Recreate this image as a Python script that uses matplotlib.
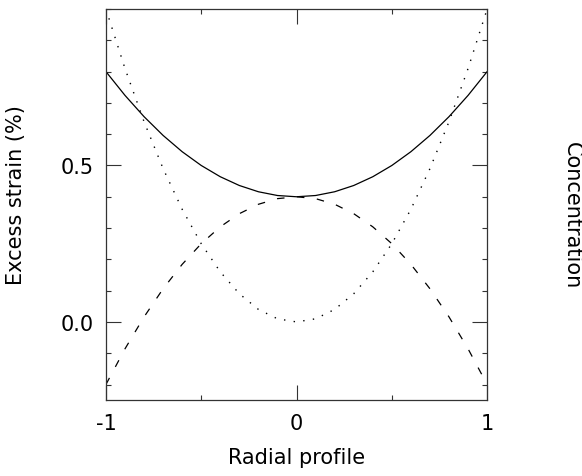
import matplotlib
matplotlib.use("Agg")
import matplotlib.pyplot as plt
from matplotlib.ticker import MultipleLocator, FixedLocator

plt.rcParams['font.family'] = ['DejaVu Sans']

# Radial positions and values
radial = [-1.0, -0.9, -0.8, -0.7, -0.6, -0.5, -0.4, -0.3, -0.2, -0.1, 0.0,
          0.1, 0.2, 0.3, 0.4, 0.5, 0.6, 0.7, 0.8, 0.9, 1.0]
total_strain = [0.800, 0.724, 0.656, 0.596, 0.544, 0.500, 0.464, 0.436, 0.416, 0.404, 0.400,
                0.404, 0.416, 0.436, 0.464, 0.500, 0.544, 0.596, 0.656, 0.724, 0.800]
dashed_strain = [-0.200, -0.086, 0.016, 0.106, 0.184, 0.250, 0.304, 0.346, 0.376, 0.394, 0.400,
                 0.394, 0.376, 0.346, 0.304, 0.250, 0.184, 0.106, 0.016, -0.086, -0.200]
dotted_strain = [1.00, 0.81, 0.64, 0.49, 0.36, 0.25, 0.16, 0.09, 0.04, 0.01, 0.00,
                 0.01, 0.04, 0.09, 0.16, 0.25, 0.36, 0.49, 0.64, 0.81, 1.00]

x_ticks = [-1, 0, 1]
x_ticklabels = ["-1", "0", "1"]
y_ticks = [0.0, 0.5]
y_ticklabels = ["0.0", "0.5"]

fig = plt.figure(figsize=(5.82, 4.77), dpi=100)
ax = fig.add_axes([0.182, 0.159, 0.655, 0.820])

ax.plot(radial, total_strain, color="black", lw=0.9, solid_joinstyle="round")
ax.plot(radial, dashed_strain, color="black", lw=0.9, linestyle=(0, (6, 10)))
ax.plot(radial, dotted_strain, color="black", lw=1.0, linestyle=(0, (1, 6)))

ax.set_xlim(-1, 1)
ax.set_ylim(-0.25, 1.0)

ax.xaxis.set_major_locator(FixedLocator(x_ticks))
ax.set_xticklabels(x_ticklabels)
ax.xaxis.set_minor_locator(FixedLocator([-0.5, 0.5]))
ax.yaxis.set_major_locator(FixedLocator(y_ticks))
ax.set_yticklabels(y_ticklabels)
ax.yaxis.set_minor_locator(MultipleLocator(0.1))

ax.tick_params(which="both", direction="in", top=True, right=True,
               labelright=False, labeltop=False, width=0.8, color="#333333")
ax.tick_params(which="major", length=11, labelsize=15, pad=9)
ax.tick_params(which="minor", length=3.5)

for s in ax.spines.values():
    s.set_linewidth(0.9)
    s.set_color("#333333")

ax.set_xlabel("Radial profile", fontsize=15)
ax.xaxis.set_label_coords(0.5, -0.12)
ax.set_ylabel("Excess strain (%)", fontsize=15)
ax.yaxis.set_label_coords(-0.21, 0.527)

fig.text(0.982, 0.549, "Concentration", rotation=-90, fontsize=15,
         ha="center", va="center")

fig.savefig("out.png", dpi=100)
